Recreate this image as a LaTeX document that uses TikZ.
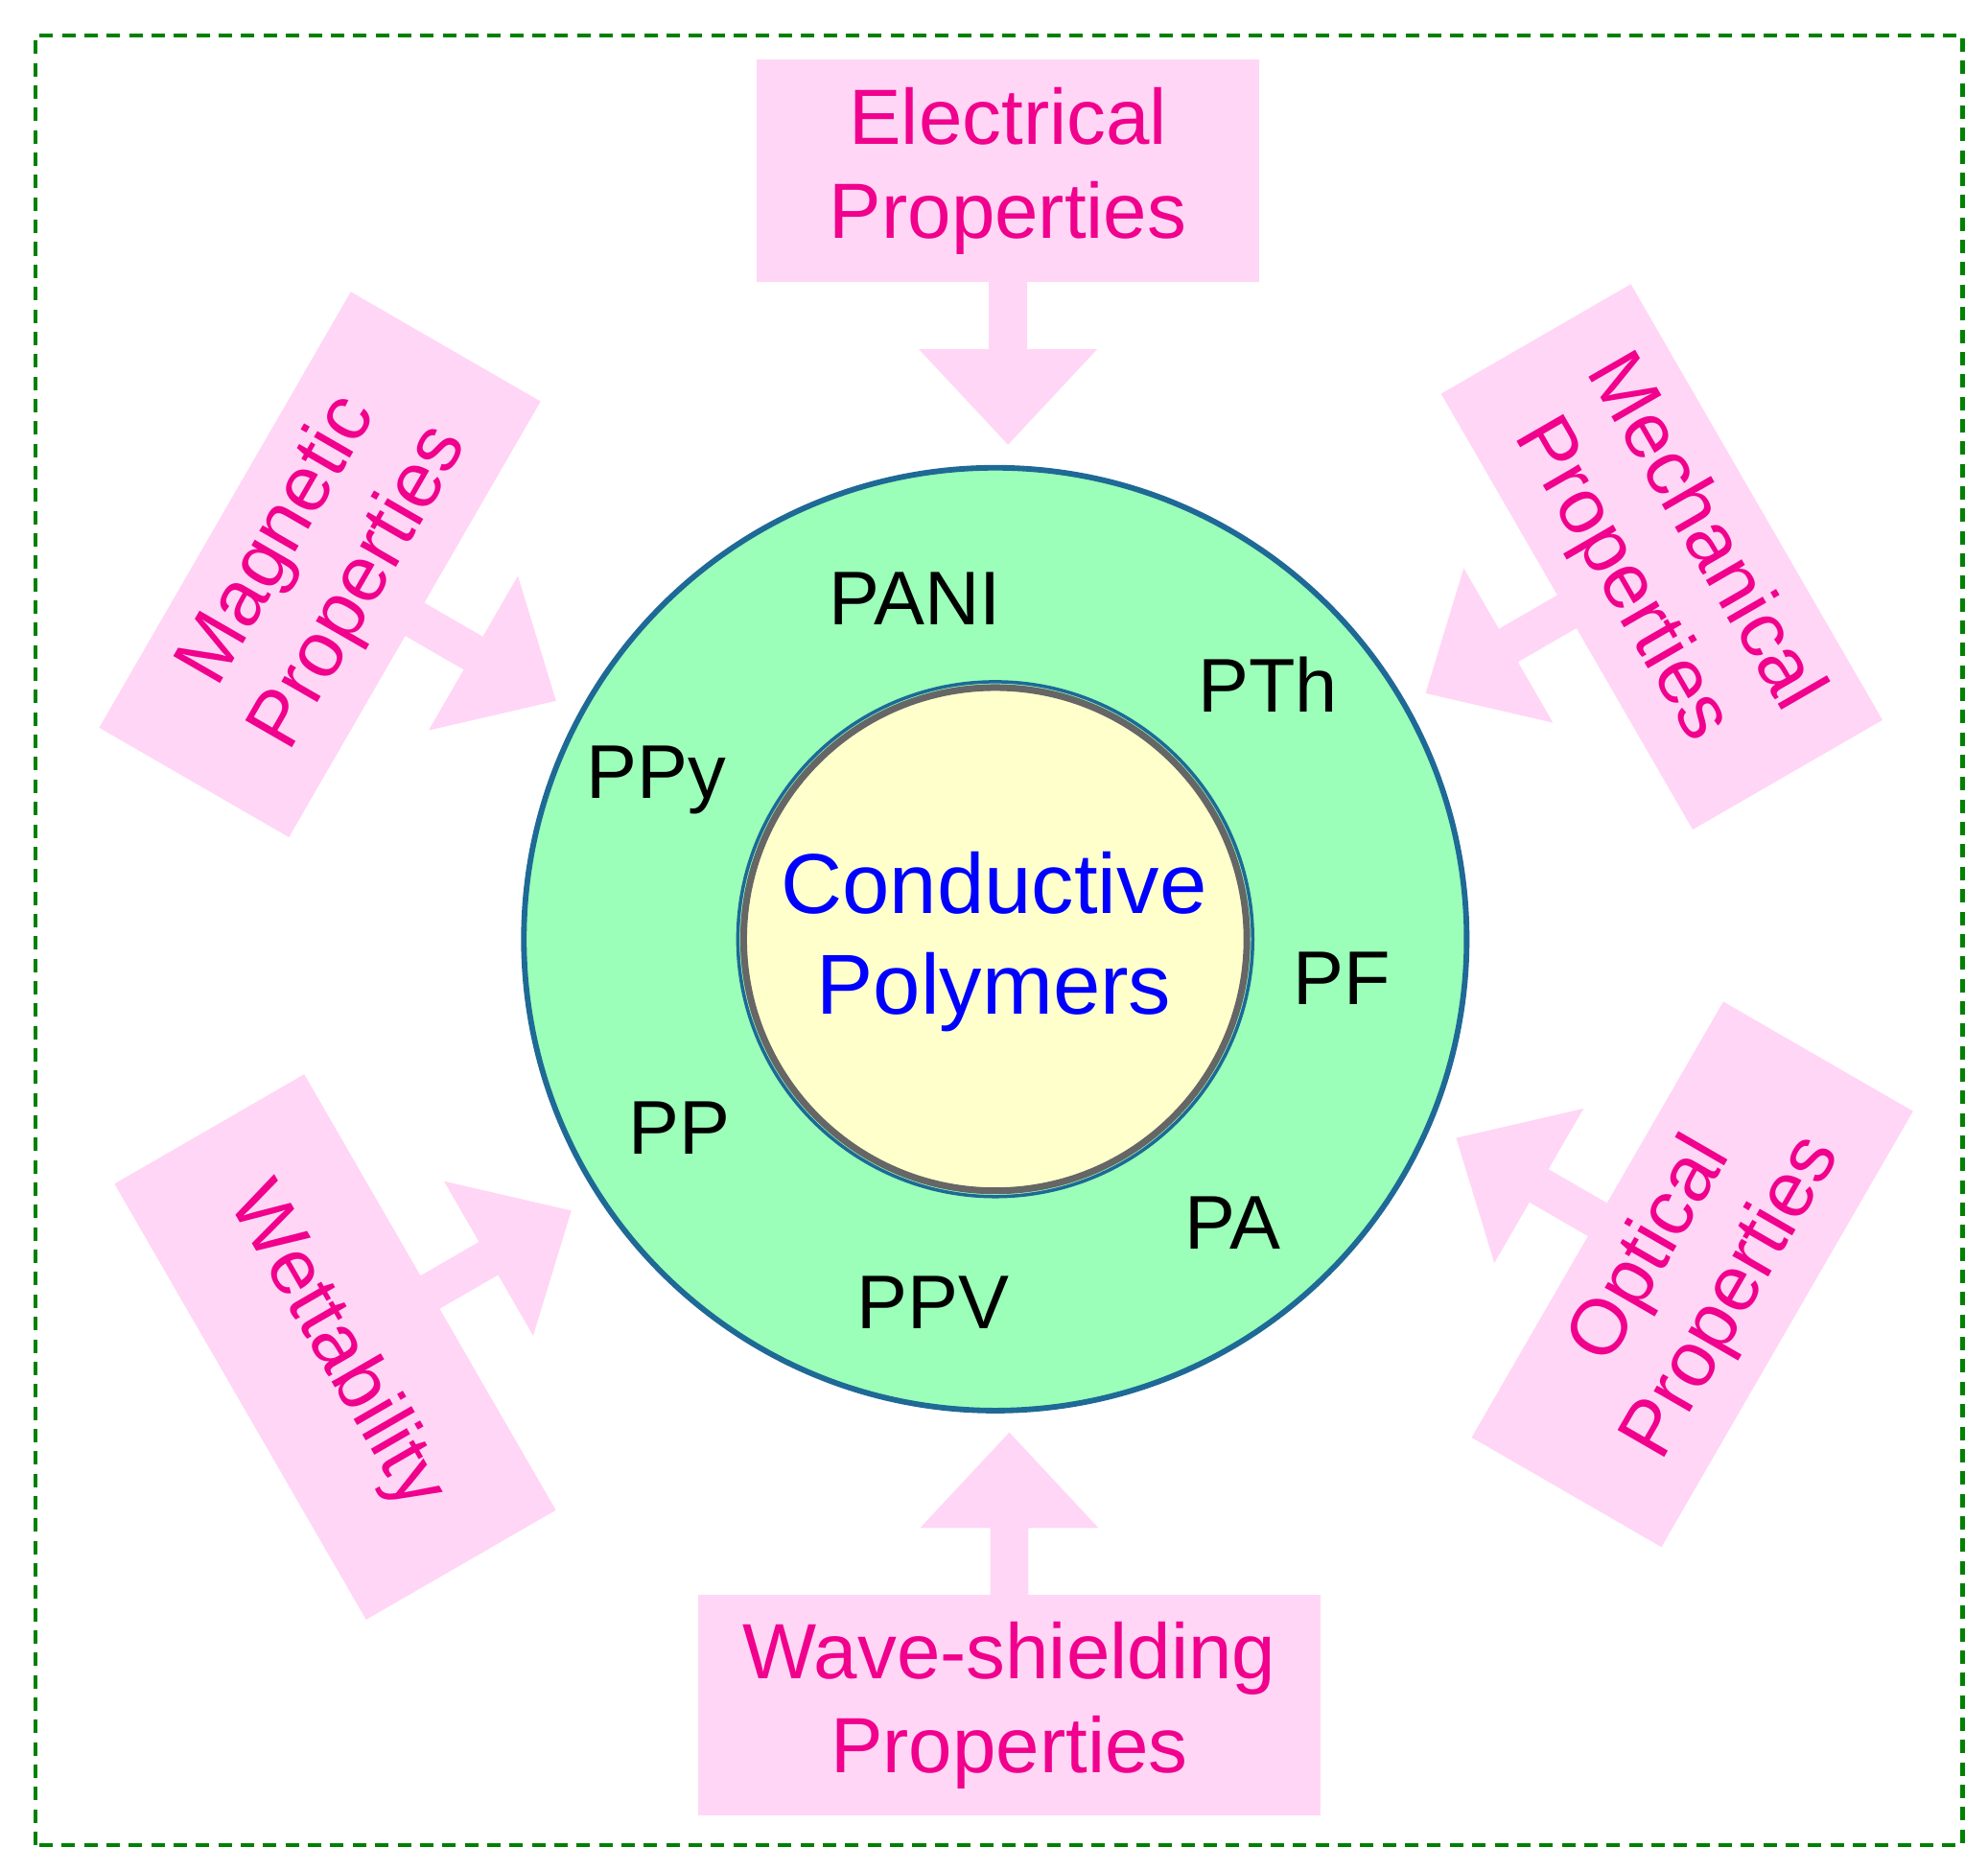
\documentclass[tikz,border=0pt]{standalone}
\usepackage{fontspec}
\setmainfont{Liberation Sans}
\begin{document}
\definecolor{pinkf}{RGB}{255,214,245}
\definecolor{pinkt}{RGB}{240,0,140}
\definecolor{greenf}{RGB}{155,255,185}
\definecolor{ringb}{RGB}{30,105,150}
\definecolor{yel}{RGB}{255,255,204}
\begin{tikzpicture}[x=0.02cm,y=0.02cm,
  box/.style={fill=pinkf,draw=none,text=pinkt,align=center,inner sep=0pt,
     font=\fontsize{35}{42}\selectfont},
  poly/.style={font=\fontsize{34}{40}\selectfont},
  arr/.style={fill=pinkf,draw=none}]
\useasboundingbox (0,0) rectangle (1560,1468);
\draw[green!50!black,dash pattern=on 6pt off 4pt,line width=1.8pt] (28,20) rectangle (1540,1440);
% circles
\node[circle,fill=greenf,draw=ringb,line width=2.5pt,minimum size=14.8cm] (outer) at (781,731) {};
\node[circle,fill=yel,draw=gray!80!black,line width=3pt,minimum size=7.9cm] (inner) at (781,731) {};
\draw[ringb,line width=1.5pt] (inner.center) circle (202);
\node[text=blue,align=center,font=\fontsize{38}{45}\selectfont] (cp) at (780,729) {Conductive\\Polymers};
\node[poly] (pani) at (718,998) {PANI};
\node[poly] (pth) at (995,931) {PTh};
\node[poly] (ppy) at (515,856) {PPy};
\node[poly] (pf) at (1053,700) {PF};
\node[poly] (pp) at (533,583) {PP};
\node[poly] (pa) at (967,508) {PA};
\node[poly] (ppv) at (732,446) {PPV};
% arrows
\foreach \cx/\cy/\ang/\d in {791/1334/-90/87, 792/130/90/86, 251/1025/-30/86, 1304/1031/210/86, 1328/468/150/86, 263/411/30/86}{
  \begin{scope}[shift={(\cx,\cy)},rotate=\ang]
    \fill[pinkf] (\d-5,15) -- (\d+53,15) -- (\d+53,70) -- (\d+128,0) -- (\d+53,-70) -- (\d+53,-15) -- (\d-5,-15) -- cycle;
  \end{scope}
}
\node[box,minimum width=7.88cm,minimum height=3.5cm] (elec) at (791,1334) {Electrical\\Properties};
\node[box,minimum width=9.78cm,minimum height=3.46cm] (wave) at (792,130) {Wave-shielding\\Properties};
\node[box,minimum width=7.9cm,minimum height=3.44cm,rotate=60] (mag) at (251,1025) {Magnetic\\Properties};
\node[box,minimum width=7.9cm,minimum height=3.44cm,rotate=-60] (mech) at (1304,1031) {Mechanical\\Properties};
\node[box,minimum width=7.9cm,minimum height=3.44cm,rotate=60] (opt) at (1328,468) {Optical\\Properties};
\node[box,minimum width=7.9cm,minimum height=3.44cm,rotate=-60] (wet) at (263,411) {Wettability};
\end{tikzpicture}
\end{document}
